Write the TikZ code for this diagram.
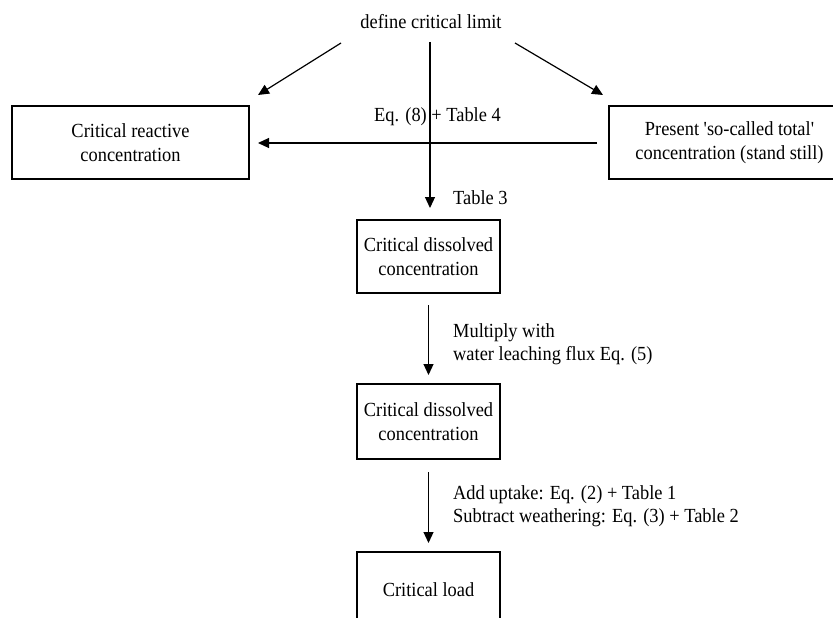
\documentclass[tikz,border=0pt]{standalone}
\usepackage{fontspec}
\setmainfont{Liberation Serif}[Ligatures=TeXOff, FakeStretch=0.92]
\usetikzlibrary{arrows.meta}
\tikzset{
  box/.style={draw, line width=1.6pt, align=center, inner sep=0pt, font=\fontsize{20}{23.5}\selectfont},
  lbl/.style={align=left, inner sep=0pt, font=\fontsize{20}{23}\selectfont},
  arr/.style={line width=1.2pt, -{Triangle[length=11pt,width=10pt]}},
}
\begin{document}
\begin{tikzpicture}[x=1pt,y=-1pt]
\clip (0,0) rectangle (833,618);
\useasboundingbox (0,0) rectangle (833,618);
% nodes
\node[lbl] (top) at (431,22) {define critical limit};
\node[box, minimum width=237pt, minimum height=73pt] (left) at (130.5,142.5) {Critical reactive\\concentration};
\node[box, minimum width=241pt, minimum height=73pt] (right) at (729.5,142.5) {Present 'so-called total'\\concentration (stand still)};
\node[box, minimum width=143pt, minimum height=73pt] (diss1) at (428.5,256.5) {Critical dissolved\\concentration};
\node[box, minimum width=143pt, minimum height=75pt] (diss2) at (428.5,421.5) {Critical dissolved\\concentration};
\node[box, minimum width=143pt, minimum height=76pt] (load) at (428.5,590) {Critical load};
% connector end points
\coordinate (l0) at (341,43);
\coordinate (l1) at (258,95);
\coordinate (r0) at (515,43);
\coordinate (r1) at (603,95);
\coordinate (v0) at (430,42);
\coordinate (v1) at (430,208);
\coordinate (h0) at (597,143);
\coordinate (h1) at (258,143);
\coordinate (a0) at (428.5,305);
\coordinate (a1) at (428.5,375);
\coordinate (b0) at (428.5,472);
\coordinate (b1) at (428.5,543);
% connectors
\draw[arr] (l0) -- (l1);
\draw[arr] (r0) -- (r1);
\draw[arr] (v0) -- (v1);
\draw[arr] (h0) -- (h1);
\draw[arr] (a0) -- (a1);
\draw[arr] (b0) -- (b1);
% labels
\node[lbl, anchor=west] (eq8) at (374,117) {Eq. (8) + Table 4};
\node[lbl, anchor=west] (t3) at (453,198) {Table 3};
\node[lbl, anchor=west] (mult) at (453,344) {Multiply with\\water leaching flux Eq. (5)};
\node[lbl, anchor=west] (add) at (453,506) {Add uptake: Eq. (2) + Table 1\\Subtract weathering: Eq. (3) + Table 2};
\end{tikzpicture}
\end{document}
